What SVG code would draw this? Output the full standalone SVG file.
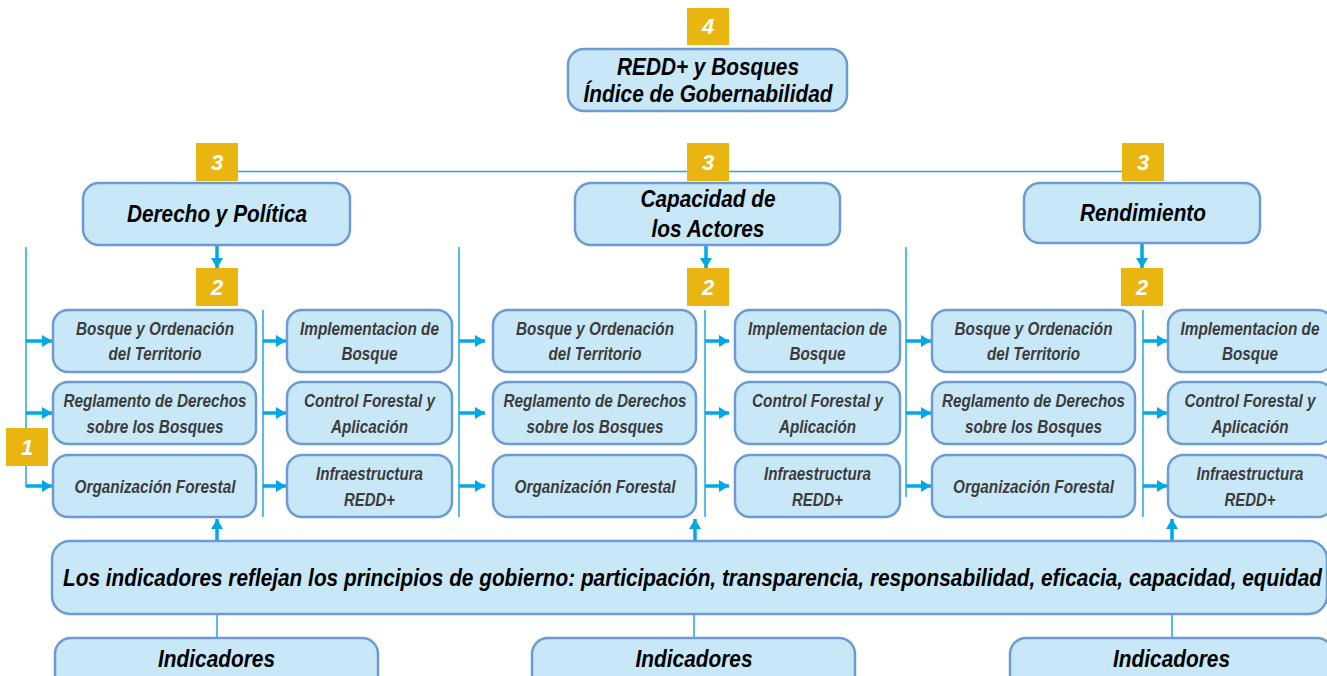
<svg xmlns="http://www.w3.org/2000/svg" width="1327" height="676" viewBox="0 0 1327 676">
<style>
.box{fill:#C8E8F8;stroke:#6B9BD2;stroke-width:2.5}
.badge{fill:#E9B510}
.bn{font-family:"Liberation Sans",Arial,sans-serif;font-weight:bold;font-style:italic;font-size:22px;fill:#ffffff;text-anchor:middle}
.t3{font-family:"Liberation Sans",Arial,sans-serif;font-weight:bold;font-style:italic;font-size:23px;fill:#000;text-anchor:middle}
.t2{font-family:"Liberation Sans",Arial,sans-serif;font-weight:bold;font-style:italic;font-size:18px;fill:#3C3C3C;text-anchor:middle}
.thin{stroke:#1BA9E6;stroke-width:1.5;fill:none}
.arr{stroke:#00A8E8;stroke-width:3.5;fill:none;marker-end:url(#ah)}
</style>
<defs>
<marker id="ah" markerUnits="userSpaceOnUse" markerWidth="10" markerHeight="12" refX="10" refY="6" orient="auto">
<path d="M0,0 L10,6 L0,12 z" fill="#00A8E8"/>
</marker>
</defs>
<rect width="1327" height="676" fill="#ffffff"/>

<g id="connectors">
<line class="thin" x1="238" y1="171.5" x2="1122" y2="171.5"/>
<line class="thin" x1="26" y1="247" x2="26" y2="487"/>
<line class="thin" x1="263" y1="310" x2="263" y2="517"/>
<line class="thin" x1="459" y1="247" x2="459" y2="517"/>
<line class="thin" x1="705" y1="310" x2="705" y2="517"/>
<line class="thin" x1="906" y1="247" x2="906" y2="497"/>
<line class="thin" x1="1143" y1="310" x2="1143" y2="517"/>
<line class="arr" x1="217" y1="246" x2="217" y2="268"/>
<line class="arr" x1="706" y1="246" x2="706" y2="268"/>
<line class="arr" x1="1142" y1="244" x2="1142" y2="268"/>
<line class="arr" x1="26" y1="341" x2="52" y2="341"/>
<line class="arr" x1="26" y1="413" x2="52" y2="413"/>
<line class="arr" x1="26" y1="486" x2="52" y2="486"/>
<line class="arr" x1="263" y1="341" x2="286" y2="341"/>
<line class="arr" x1="263" y1="413" x2="286" y2="413"/>
<line class="arr" x1="263" y1="486" x2="286" y2="486"/>
<line class="arr" x1="459" y1="341" x2="485" y2="341"/>
<line class="arr" x1="459" y1="413" x2="485" y2="413"/>
<line class="arr" x1="459" y1="486" x2="485" y2="486"/>
<line class="arr" x1="705" y1="341" x2="729" y2="341"/>
<line class="arr" x1="705" y1="413" x2="729" y2="413"/>
<line class="arr" x1="705" y1="486" x2="729" y2="486"/>
<line class="arr" x1="906" y1="341" x2="931" y2="341"/>
<line class="arr" x1="906" y1="413" x2="931" y2="413"/>
<line class="arr" x1="906" y1="486" x2="931" y2="486"/>
<line class="arr" x1="1143" y1="341" x2="1167" y2="341"/>
<line class="arr" x1="1143" y1="413" x2="1167" y2="413"/>
<line class="arr" x1="1143" y1="486" x2="1167" y2="486"/>
<line class="arr" x1="217" y1="541" x2="217" y2="519"/>
<line class="arr" x1="695" y1="541" x2="695" y2="519"/>
<line class="arr" x1="1172" y1="541" x2="1172" y2="519"/>
<line class="thin" x1="217" y1="615" x2="217" y2="638"/>
<line class="thin" x1="694" y1="615" x2="694" y2="638"/>
<line class="thin" x1="1172" y1="615" x2="1172" y2="638"/>
</g>

<g id="badge4"><rect class="badge" x="687" y="8" width="42" height="37"/><text class="bn" x="708" y="34">4</text></g>
<g id="badge3a"><rect class="badge" x="196" y="143" width="42" height="38"/><text class="bn" x="217" y="170">3</text></g>
<g id="badge3b"><rect class="badge" x="687" y="143" width="42" height="38"/><text class="bn" x="708" y="170">3</text></g>
<g id="badge3c"><rect class="badge" x="1122" y="143" width="42" height="38"/><text class="bn" x="1143" y="170">3</text></g>
<g id="badge2a"><rect class="badge" x="196" y="268" width="42" height="38"/><text class="bn" x="217" y="295">2</text></g>
<g id="badge2b"><rect class="badge" x="687" y="268" width="42" height="38"/><text class="bn" x="708" y="295">2</text></g>
<g id="badge2c"><rect class="badge" x="1121" y="268" width="42" height="38"/><text class="bn" x="1142" y="295">2</text></g>
<g id="badge1"><rect class="badge" x="6" y="428" width="42" height="38"/><text class="bn" x="27" y="455">1</text></g>

<g id="top"><rect class="box" x="568" y="49" width="279" height="62" rx="16"/>
<text class="t3" x="708" y="75" textLength="182" lengthAdjust="spacingAndGlyphs">REDD+ y Bosques</text>
<text class="t3" x="708" y="102" textLength="249" lengthAdjust="spacingAndGlyphs">Índice de Gobernabilidad</text></g>

<g id="derecho"><rect class="box" x="83" y="183" width="267" height="62" rx="16"/>
<text class="t3" x="217" y="222" textLength="180" lengthAdjust="spacingAndGlyphs">Derecho y Política</text></g>
<g id="capacidad"><rect class="box" x="575" y="183" width="265" height="62" rx="16"/>
<text class="t3" x="708" y="207" textLength="135" lengthAdjust="spacingAndGlyphs">Capacidad de</text>
<text class="t3" x="708" y="237" textLength="113" lengthAdjust="spacingAndGlyphs">los Actores</text></g>
<g id="rendimiento"><rect class="box" x="1024" y="183" width="236" height="60" rx="16"/>
<text class="t3" x="1143" y="221" textLength="126" lengthAdjust="spacingAndGlyphs">Rendimiento</text></g>

<g id="l-bosque"><rect class="box" x="53" y="310" width="203" height="62" rx="15"/>
<text class="t2" x="155" y="335" textLength="158" lengthAdjust="spacingAndGlyphs">Bosque y Ordenación</text>
<text class="t2" x="155" y="360" textLength="93" lengthAdjust="spacingAndGlyphs">del Territorio</text></g>
<g id="l-regl"><rect class="box" x="53" y="382" width="203" height="62" rx="15"/>
<text class="t2" x="155" y="407" textLength="183" lengthAdjust="spacingAndGlyphs">Reglamento de Derechos</text>
<text class="t2" x="155" y="433" textLength="137" lengthAdjust="spacingAndGlyphs">sobre los Bosques</text></g>
<g id="l-org"><rect class="box" x="53" y="455" width="203" height="62" rx="15"/>
<text class="t2" x="155" y="493" textLength="161" lengthAdjust="spacingAndGlyphs">Organización Forestal</text></g>
<g id="l-impl"><rect class="box" x="287" y="310" width="165" height="62" rx="15"/>
<text class="t2" x="369.5" y="335" textLength="139" lengthAdjust="spacingAndGlyphs">Implementacion de</text>
<text class="t2" x="369.5" y="360" textLength="56" lengthAdjust="spacingAndGlyphs">Bosque</text></g>
<g id="l-ctrl"><rect class="box" x="287" y="382" width="165" height="62" rx="15"/>
<text class="t2" x="369.5" y="407" textLength="131" lengthAdjust="spacingAndGlyphs">Control Forestal y</text>
<text class="t2" x="369.5" y="433" textLength="77" lengthAdjust="spacingAndGlyphs">Aplicación</text></g>
<g id="l-infra"><rect class="box" x="287" y="455" width="165" height="62" rx="15"/>
<text class="t2" x="369.5" y="480" textLength="107" lengthAdjust="spacingAndGlyphs">Infraestructura</text>
<text class="t2" x="369.5" y="506" textLength="51" lengthAdjust="spacingAndGlyphs">REDD+</text></g>

<g id="m-bosque"><rect class="box" x="493" y="310" width="203" height="62" rx="15"/>
<text class="t2" x="595" y="335" textLength="158" lengthAdjust="spacingAndGlyphs">Bosque y Ordenación</text>
<text class="t2" x="595" y="360" textLength="93" lengthAdjust="spacingAndGlyphs">del Territorio</text></g>
<g id="m-regl"><rect class="box" x="493" y="382" width="203" height="62" rx="15"/>
<text class="t2" x="595" y="407" textLength="183" lengthAdjust="spacingAndGlyphs">Reglamento de Derechos</text>
<text class="t2" x="595" y="433" textLength="137" lengthAdjust="spacingAndGlyphs">sobre los Bosques</text></g>
<g id="m-org"><rect class="box" x="493" y="455" width="203" height="62" rx="15"/>
<text class="t2" x="595" y="493" textLength="161" lengthAdjust="spacingAndGlyphs">Organización Forestal</text></g>
<g id="m-impl"><rect class="box" x="735" y="310" width="165" height="62" rx="15"/>
<text class="t2" x="817.5" y="335" textLength="139" lengthAdjust="spacingAndGlyphs">Implementacion de</text>
<text class="t2" x="817.5" y="360" textLength="56" lengthAdjust="spacingAndGlyphs">Bosque</text></g>
<g id="m-ctrl"><rect class="box" x="735" y="382" width="165" height="62" rx="15"/>
<text class="t2" x="817.5" y="407" textLength="131" lengthAdjust="spacingAndGlyphs">Control Forestal y</text>
<text class="t2" x="817.5" y="433" textLength="77" lengthAdjust="spacingAndGlyphs">Aplicación</text></g>
<g id="m-infra"><rect class="box" x="735" y="455" width="165" height="62" rx="15"/>
<text class="t2" x="817.5" y="480" textLength="107" lengthAdjust="spacingAndGlyphs">Infraestructura</text>
<text class="t2" x="817.5" y="506" textLength="51" lengthAdjust="spacingAndGlyphs">REDD+</text></g>

<g id="r-bosque"><rect class="box" x="932" y="310" width="203" height="62" rx="15"/>
<text class="t2" x="1033.5" y="335" textLength="158" lengthAdjust="spacingAndGlyphs">Bosque y Ordenación</text>
<text class="t2" x="1033.5" y="360" textLength="93" lengthAdjust="spacingAndGlyphs">del Territorio</text></g>
<g id="r-regl"><rect class="box" x="932" y="382" width="203" height="62" rx="15"/>
<text class="t2" x="1033.5" y="407" textLength="183" lengthAdjust="spacingAndGlyphs">Reglamento de Derechos</text>
<text class="t2" x="1033.5" y="433" textLength="137" lengthAdjust="spacingAndGlyphs">sobre los Bosques</text></g>
<g id="r-org"><rect class="box" x="932" y="455" width="203" height="62" rx="15"/>
<text class="t2" x="1033.5" y="493" textLength="161" lengthAdjust="spacingAndGlyphs">Organización Forestal</text></g>
<g id="r-impl"><rect class="box" x="1168" y="310" width="165" height="62" rx="15"/>
<text class="t2" x="1250" y="335" textLength="139" lengthAdjust="spacingAndGlyphs">Implementacion de</text>
<text class="t2" x="1250" y="360" textLength="56" lengthAdjust="spacingAndGlyphs">Bosque</text></g>
<g id="r-ctrl"><rect class="box" x="1168" y="382" width="165" height="62" rx="15"/>
<text class="t2" x="1250" y="407" textLength="131" lengthAdjust="spacingAndGlyphs">Control Forestal y</text>
<text class="t2" x="1250" y="433" textLength="77" lengthAdjust="spacingAndGlyphs">Aplicación</text></g>
<g id="r-infra"><rect class="box" x="1168" y="455" width="165" height="62" rx="15"/>
<text class="t2" x="1250" y="480" textLength="107" lengthAdjust="spacingAndGlyphs">Infraestructura</text>
<text class="t2" x="1250" y="506" textLength="51" lengthAdjust="spacingAndGlyphs">REDD+</text></g>

<g id="principios"><rect class="box" x="52" y="541" width="1275" height="73" rx="18"/>
<text class="t3" x="63" y="586" style="text-anchor:start" font-size="22" textLength="1259" lengthAdjust="spacingAndGlyphs">Los indicadores reflejan los principios de gobierno: participación, transparencia, responsabilidad, eficacia, capacidad, equidad</text></g>

<g id="ind1"><rect class="box" x="55" y="638" width="323" height="60" rx="16"/>
<text class="t3" x="216.5" y="667" textLength="117" lengthAdjust="spacingAndGlyphs">Indicadores</text></g>
<g id="ind2"><rect class="box" x="532" y="638" width="323" height="60" rx="16"/>
<text class="t3" x="694" y="667" textLength="117" lengthAdjust="spacingAndGlyphs">Indicadores</text></g>
<g id="ind3"><rect class="box" x="1010" y="638" width="323" height="60" rx="16"/>
<text class="t3" x="1171.5" y="667" textLength="117" lengthAdjust="spacingAndGlyphs">Indicadores</text></g>
</svg>
